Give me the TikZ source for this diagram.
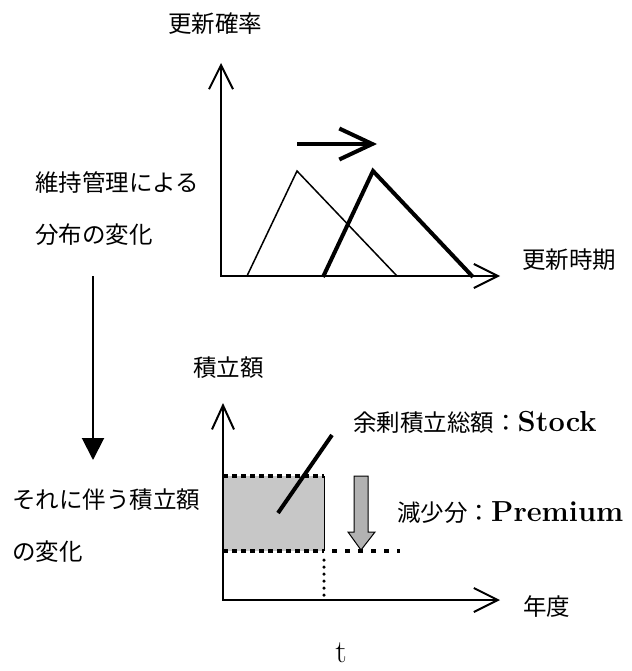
\documentclass[tikz,border=0pt]{standalone}
\usepackage{fontspec}
\newfontfamily\jp{Noto Sans CJK JP}
\usetikzlibrary{arrows.meta}
\begin{document}
\begin{tikzpicture}[x=1pt,y=-1pt,
  lbl/.style={inner sep=0pt, anchor=west, font=\jp\fontsize{23.5}{28}\selectfont},
  axisline/.style={line width=2pt},
  thinline/.style={line width=1.5pt},
  thickline/.style={line width=4pt},
  sqdash/.style={line width=3.5pt, dash pattern=on 5pt off 4pt},
  fillgray/.style={fill=black!22}]
\useasboundingbox (0,0) rectangle (631,671);

% ---------- top chart ----------
\coordinate (y1) at (221,63);
\coordinate (o1) at (221,276);
\coordinate (x1) at (500,276);
\draw[axisline, {Straight Barb[length=24pt,width=24pt]}-{Straight Barb[length=24pt,width=24pt]}] (y1) -- (o1) -- (x1);

\draw[thinline] (247,276) -- (297,171) -- (397,276);
\draw[thickline, line join=miter] (323,277) -- (373,171) -- (473,277);

\coordinate (ha) at (297,144);
\coordinate (hb) at (377,144);
\draw[thickline, -{Straight Barb[length=33pt,width=31pt]}] (ha) -- (hb);

\node[lbl] (t1) at (168,24) {更新確率};
\node[lbl] (t2) at (522,260) {更新時期};
\node[lbl] (t3) at (35,183) {維持管理による};
\node[lbl] (t4) at (35,235) {分布の変化};

% ---------- left arrow ----------
\coordinate (va) at (93,276);
\coordinate (vb) at (93,460);
\draw[axisline, -{Triangle[length=22pt,width=22pt]}] (va) -- (vb);

% ---------- bottom chart ----------
\fill[fillgray] (223,476) rectangle (324,551);
\draw[line width=0.8pt] (324,476) -- (324,551);
\draw[sqdash] (223,476) -- (324,476);
\draw[sqdash] (223,551) -- (324,551);
\draw[line width=3.5pt, dash pattern=on 5pt off 8pt] (332,551) -- (400,551);
\draw[line width=3.5pt, line cap=round, dash pattern=on 0pt off 7pt] (324,560) -- (324,599);

\coordinate (y2) at (223,403);
\coordinate (o2) at (223,600);
\coordinate (x2) at (500,600);
\draw[axisline, {Straight Barb[length=24pt,width=22pt]}-{Straight Barb[length=24pt,width=24pt]}] (y2) -- (o2) -- (x2);

\coordinate (da) at (278,513);
\coordinate (db) at (332,435);
\draw[thickline] (da) -- (db);

\draw[fill=black!30, line width=1pt, line join=miter]
  (354,476) -- (368,476) -- (368,532) -- (375,532) -- (361,550) -- (348,532) -- (354,532) -- cycle;

\node[lbl] (t5) at (193,368) {積立額};
\node[lbl] (t6) at (353,422) {余剰積立総額：{\rmfamily\bfseries\fontsize{29}{32}\selectfont Stock}};
\node[lbl] (t7) at (397,513) {減少分：{\rmfamily\bfseries\fontsize{29}{32}\selectfont Premium}};
\node[lbl] (t8) at (12,500) {それに伴う積立額};
\node[lbl] (t9) at (12,552) {の変化};
\node[lbl] (t10) at (523,607) {年度};
\node[inner sep=0pt, font=\rmfamily\fontsize{32}{34}\selectfont] (t11) at (341,653) {t};
\end{tikzpicture}
\end{document}
